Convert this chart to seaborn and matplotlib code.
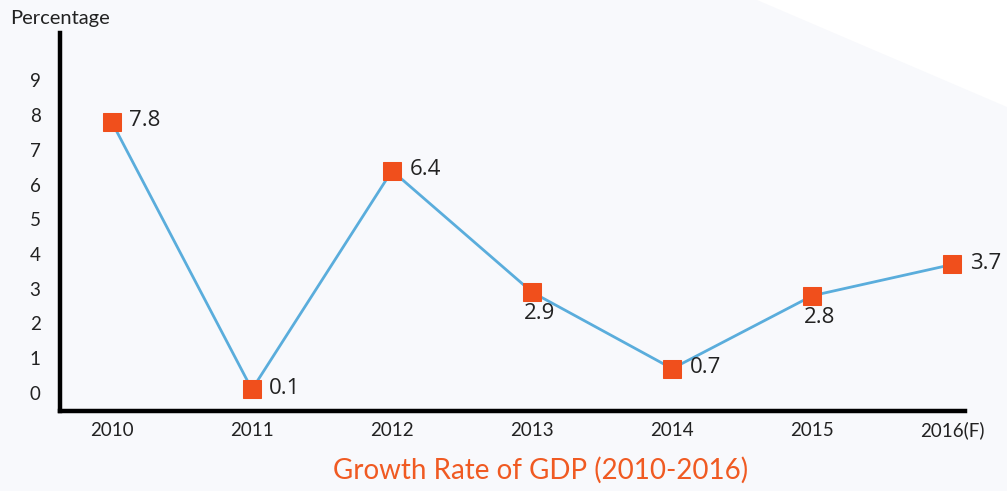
import matplotlib
matplotlib.use("Agg")
import matplotlib.pyplot as plt
from matplotlib.patches import Polygon
import seaborn as sns
import pandas as pd

# GDP growth, percent
years = ["2010", "2011", "2012", "2013", "2014", "2015", "2016(F)"]
growth = [7.8, 0.1, 6.4, 2.9, 0.7, 2.8, 3.7]
y_ticks = [0, 1, 2, 3, 4, 5, 6, 7, 8, 9]
# label placement: "r" = right of marker, "b" = below-right
label_pos = ["r", "r", "r", "b", "r", "b", "r"]

df = pd.DataFrame({"idx": range(len(years)), "year": years, "growth": growth})

sns.set_theme(style="white")
plt.rcParams["font.family"] = ["Lato", "DejaVu Sans"]

bg = "#f8f9fc"
fig = plt.figure(figsize=(10.07, 4.91), dpi=100, facecolor=bg)
# pale corner wedge at top right
fig.patches.append(Polygon([(0.752, 1.0), (1.0, 1.0), (1.0, 0.782)], closed=True,
                           transform=fig.transFigure, facecolor="white",
                           edgecolor="none", zorder=0))

ax = fig.add_axes([0.0596, 0.163, 0.8987, 0.770])
ax.set_facecolor("none")

sns.lineplot(data=df, x="idx", y="growth", ax=ax, color="#5aaddc", linewidth=2,
             marker="s", markersize=13, markerfacecolor="#f04f1c",
             markeredgecolor="#f04f1c", zorder=3)

for i, (v, p) in enumerate(zip(growth, label_pos)):
    if p == "r":
        ax.annotate(f"{v}", (i, v), xytext=(12.5, 1), textcoords="offset points",
                    ha="left", va="center", fontsize=16, family="Open Sans",
                    color="#222222")
    else:
        ax.annotate(f"{v}", (i, v), xytext=(-6, -8), textcoords="offset points",
                    ha="left", va="top", fontsize=16, family="Open Sans",
                    color="#222222")

ax.set_xlim(-0.37, 6.09)
ax.set_ylim(-0.52, 10.37)
ax.set_xticks(range(len(years)))
ax.set_xticklabels(years)
ax.set_yticks(y_ticks)
ax.set_yticklabels([str(t) for t in y_ticks])
ax.tick_params(axis="both", length=0, labelsize=13.5, colors="#222222")
ax.tick_params(axis="y", pad=14)
ax.tick_params(axis="x", pad=18)
for lab in ax.get_xticklabels():
    lab.set_verticalalignment("baseline")
ax.set_xlabel("")
ax.set_ylabel("")

for side in ["top", "right"]:
    ax.spines[side].set_visible(False)
for side in ["left", "bottom"]:
    ax.spines[side].set_color("black")
    ax.spines[side].set_linewidth(3.2)

fig.text(0.01, 0.962, "Percentage", fontsize=14.5, color="#222222", ha="left", va="center")
fig.text(0.537, 0.043, "Growth Rate of GDP (2010-2016)", fontsize=20,
         color="#f05a22", ha="center", va="center")

fig.savefig("out.png", dpi=100, facecolor=bg)
